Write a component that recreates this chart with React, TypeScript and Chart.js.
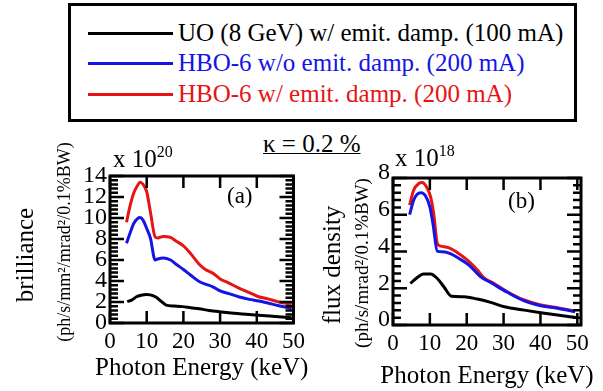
import React, { useEffect, useRef } from 'react';
import { Chart, registerables } from 'chart.js';

Chart.register(...registerables);

const FONT = '"Liberation Serif", "Times New Roman", serif';
const BLACK = '#000000';
const BLUE = '#1414e6';
const RED = '#e61414';

// ---------- tick values ----------
const xTicks = [0, 10, 20, 30, 40, 50];
const yTicksA = [0, 2, 4, 6, 8, 10, 12, 14];
const yTicksB = [0, 2, 4, 6, 8];

// ---------- legend ----------
const seriesNames = [
  'UO (8 GeV) w/ emit. damp. (100 mA)',
  'HBO-6 w/o emit. damp. (200 mA)',
  'HBO-6 w/ emit. damp. (200 mA)',
];

// ---------- panel (a): brilliance, x 10^20 ----------
const uoA_keV = [4.7, 6, 7.2, 8.5, 9.9, 11, 12.6, 14, 15.3, 17.5, 19.8, 22, 24.3, 27, 29.7, 33, 36, 40.5, 45, 49.5];
const uoA_val = [2.03, 2.2, 2.5, 2.65, 2.72, 2.68, 2.45, 2.05, 1.71, 1.62, 1.56, 1.45, 1.35, 1.2, 1.08, 0.95, 0.85, 0.74, 0.62, 0.5];

const hboA_keV = [4.5, 5.5, 6.5, 7.5, 8.2, 9, 10, 11, 12.3, 13, 14.5, 16.5, 18, 20, 22, 24.3, 26, 28, 30, 32.4, 35, 38, 40.5, 43, 46, 49.5];
const hboNoDampA_val = [7.6, 8.6, 9.5, 9.95, 10.05, 9.8, 9.0, 8.1, 6.0, 6.1, 6.2, 6.0, 5.6, 5.1, 4.55, 3.95, 3.7, 3.45, 3.05, 2.8, 2.5, 2.25, 2.1, 1.9, 1.65, 1.4];
const hboDampA_val = [9.6, 11.2, 12.4, 13.1, 13.4, 13.2, 12.5, 10.6, 8.2, 8.1, 8.25, 8.15, 7.8, 7.35, 6.6, 5.6, 5.1, 4.75, 4.2, 3.8, 3.35, 2.9, 2.5, 2.3, 2.0, 1.8];

// ---------- panel (b): flux density, x 10^18 ----------
const uoB_keV = [4.7, 6.5, 8.3, 10.2, 12.0, 13.8, 15.8, 19.3, 22.9, 26.5, 30.2, 35.6, 40.1, 44.6, 49.6];
const uoB_val = [2.26, 2.57, 2.77, 2.77, 2.53, 2.08, 1.57, 1.54, 1.41, 1.23, 0.99, 0.81, 0.67, 0.54, 0.41];

const hboNoDampB_keV = [4.5, 5.6, 6.5, 7.6, 8.8, 10.0, 10.9, 12.0, 13.4, 15.7, 17.9, 20.6, 23.8, 26.5, 31.0, 35.6, 40.1, 44.6, 49.4];
const hboNoDampB_val = [6.01, 6.79, 7.10, 7.20, 7.03, 6.43, 5.43, 4.02, 3.98, 3.87, 3.62, 3.26, 2.62, 2.31, 1.78, 1.31, 1.05, 0.91, 0.72];

const hboDampB_keV = [4.5, 5.6, 7.0, 7.9, 9.1, 10.2, 11.1, 12.0, 12.9, 15.2, 17.4, 20.2, 22.9, 24.7, 27.4, 31.0, 35.6, 40.1, 44.6, 49.4];
const hboDampB_val = [6.52, 7.33, 7.70, 7.75, 7.51, 6.97, 5.97, 4.44, 4.29, 4.2, 3.95, 3.53, 2.99, 2.57, 2.26, 1.81, 1.36, 1.09, 0.94, 0.76];

const pts = (xs: number[], ys: number[]) => xs.map((x, i) => ({ x, y: ys[i] }));

const decoPlugin = {
  id: 'deco',
  afterDraw(chart: any, _args: any, o: any) {
    const { ctx, chartArea: ca, scales } = chart;
    const xs = scales.x;
    const ys = scales.y;
    ctx.save();
    ctx.strokeStyle = '#000';
    ctx.lineWidth = 3;
    ctx.strokeRect(ca.left, ca.top, ca.right - ca.left, ca.bottom - ca.top);
    ctx.lineWidth = 2.5;
    ctx.beginPath();
    const n = Math.round((ys.max - ys.min) / o.yMinor);
    for (let i = 0; i <= n; i++) {
      const v = ys.min + i * o.yMinor;
      const isMajor = o.yMajor.some((m: number) => Math.abs(m - v) < 1e-6);
      const len = isMajor ? 14 : 8;
      const py = ys.getPixelForValue(v);
      ctx.moveTo(ca.left, py);
      ctx.lineTo(ca.left + len, py);
      ctx.moveTo(ca.right, py);
      ctx.lineTo(ca.right - len, py);
    }
    for (const v of o.xMajor) {
      const px = xs.getPixelForValue(v);
      ctx.moveTo(px, ca.bottom);
      ctx.lineTo(px, ca.bottom - 12);
      ctx.moveTo(px, ca.top);
      ctx.lineTo(px, ca.top + 12);
    }
    ctx.stroke();

    ctx.fillStyle = '#000';
    // x title
    ctx.textAlign = 'center';
    ctx.textBaseline = 'middle';
    ctx.font = `25px ${FONT}`;
    ctx.fillText('Photon Energy (keV)', (ca.left + ca.right) / 2, o.xTitleY);
    // y titles
    ctx.save();
    ctx.translate(o.yTitle[1], o.yTitle[2]);
    ctx.rotate(-Math.PI / 2);
    ctx.font = `25px ${FONT}`;
    ctx.fillText(o.yTitle[0], 0, 0);
    ctx.restore();
    ctx.save();
    ctx.translate(o.ySub[1], o.ySub[2]);
    ctx.rotate(-Math.PI / 2);
    ctx.font = `${o.ySub[3]}px ${FONT}`;
    ctx.fillText(o.ySub[0], 0, 0);
    ctx.restore();
    // exponent
    ctx.textAlign = 'left';
    ctx.textBaseline = 'alphabetic';
    ctx.font = `25px ${FONT}`;
    ctx.fillText('x 10', o.expo[0], o.expo[1]);
    const w = ctx.measureText('x 10').width;
    ctx.font = `16px ${FONT}`;
    ctx.fillText(o.expo[2], o.expo[0] + w, o.expo[1] - 10);
    // panel letter
    ctx.font = `23px ${FONT}`;
    ctx.textBaseline = 'middle';
    ctx.fillText(o.letter[0], o.letter[1], o.letter[2]);
    ctx.restore();
  },
};

function makeConfig(p: any) {
  const ds = (label: string, data: any[], color: string) => ({
    label,
    data,
    borderColor: color,
    backgroundColor: color,
    borderWidth: 3,
    pointRadius: 0,
    fill: false,
    cubicInterpolationMode: 'monotone' as const,
  });
  return {
    type: 'line' as const,
    data: {
      datasets: [
        ds(seriesNames[0], p.black, BLACK),
        ds(seriesNames[1], p.blue, BLUE),
        ds(seriesNames[2], p.red, RED),
      ],
    },
    options: {
      responsive: false,
      maintainAspectRatio: false,
      animation: false as const,
      layout: { padding: p.padding },
      plugins: {
        legend: { display: false },
        tooltip: { enabled: false },
        deco: p.deco,
      },
      scales: {
        x: {
          type: 'linear' as const,
          min: 0,
          max: p.xMax,
          afterBuildTicks: (s: any) => {
            s.ticks = xTicks.map((v) => ({ value: v }));
          },
          afterFit: (s: any) => {
            s.height = p.xAxisH;
          },
          grid: { display: false, drawTicks: false },
          border: { display: false },
          ticks: {
            color: '#000',
            font: { family: FONT, size: 23 },
            padding: 5,
            maxRotation: 0,
            autoSkip: false,
          },
        },
        y: {
          type: 'linear' as const,
          min: 0,
          max: p.yMax,
          afterBuildTicks: (s: any) => {
            s.ticks = p.yTicks.map((v: number) => ({ value: v }));
          },
          afterFit: (s: any) => {
            s.width = p.yAxisW;
          },
          grid: { display: false, drawTicks: false },
          border: { display: false },
          ticks: {
            color: '#000',
            font: { family: FONT, size: 24 },
            padding: 3,
            labelOffset: p.labelOffset,
            autoSkip: false,
          },
        },
      },
    },
    plugins: [decoPlugin],
  };
}

export default function App() {
  const refA = useRef<HTMLCanvasElement | null>(null);
  const refB = useRef<HTMLCanvasElement | null>(null);

  useEffect(() => {
    const chartA = new Chart(
      refA.current as HTMLCanvasElement,
      makeConfig({
        black: pts(uoA_keV, uoA_val),
        blue: pts(hboA_keV, hboNoDampA_val),
        red: pts(hboA_keV, hboDampA_val),
        padding: { left: 0, right: 15, top: 46, bottom: 0 },
        xMax: 50,
        yMax: 14,
        yTicks: yTicksA,
        xAxisH: 68,
        yAxisW: 110,
        labelOffset: 0,
        deco: {
          yMinor: 0.4,
          yMajor: yTicksA,
          xMajor: xTicks,
          xTitleY: 238,
          yTitle: ['brilliance', 26, 125],
          ySub: ['(ph/s/mm²/mrad²/0.1%BW)', 65, 112, 18],
          expo: [113, 37, '20'],
          letter: ['(a)', 227, 67],
        },
      }) as any
    );
    const chartB = new Chart(
      refB.current as HTMLCanvasElement,
      makeConfig({
        black: pts(uoB_keV, uoB_val),
        blue: pts(hboNoDampB_keV, hboNoDampB_val),
        red: pts(hboDampB_keV, hboDampB_val),
        padding: { left: 0, right: 22, top: 48, bottom: 0 },
        xMax: 51,
        yMax: 8,
        yTicks: yTicksB,
        xAxisH: 66,
        yAxisW: 93,
        labelOffset: -5,
        deco: {
          yMinor: 0.4,
          yMajor: yTicksB,
          xMajor: xTicks,
          xTitleY: 246,
          yTitle: ['flux density', 33, 135],
          ySub: ['(ph/s/mrad²/0.1%BW)', 63, 133, 19],
          expo: [95, 36, '18'],
          letter: ['(b)', 208, 72],
        },
      }) as any
    );
    return () => {
      chartA.destroy();
      chartB.destroy();
    };
  }, []);

  const rowTops = [27, 57, 88];
  const rowColors = [BLACK, BLUE, RED];

  return (
    <div style={{ position: 'absolute', left: 0, top: 0, width: 603, height: 391, background: '#fff', overflow: 'hidden' }}>
      <div
        style={{
          position: 'absolute',
          left: 68,
          top: 3,
          width: 503,
          height: 113,
          border: '3px solid #000',
          boxSizing: 'content-box',
        }}
      >
        {seriesNames.map((name, i) => (
          <React.Fragment key={name}>
            <div
              style={{
                position: 'absolute',
                left: 17,
                top: rowTops[i] - 1.5,
                width: 85,
                height: 3,
                background: rowColors[i],
              }}
            />
            <div
              style={{
                position: 'absolute',
                left: 107,
                top: rowTops[i] - 15,
                height: 30,
                lineHeight: '30px',
                fontFamily: FONT,
                fontSize: 25,
                color: rowColors[i],
                whiteSpace: 'nowrap',
              }}
            >
              {name}
            </div>
          </React.Fragment>
        ))}
      </div>
      <div
        style={{
          position: 'absolute',
          left: 263,
          top: 130,
          height: 28,
          lineHeight: '28px',
          fontFamily: FONT,
          fontSize: 25,
          color: '#000',
          textDecoration: 'underline',
          textDecorationThickness: '1px',
          whiteSpace: 'nowrap',
        }}
      >
        κ = 0.2 %
      </div>
      <canvas ref={refA} width={310} height={261} style={{ position: 'absolute', left: 0, top: 130, width: 310, height: 261 }} />
      <canvas ref={refB} width={303} height={261} style={{ position: 'absolute', left: 300, top: 130, width: 303, height: 261 }} />
    </div>
  );
}
